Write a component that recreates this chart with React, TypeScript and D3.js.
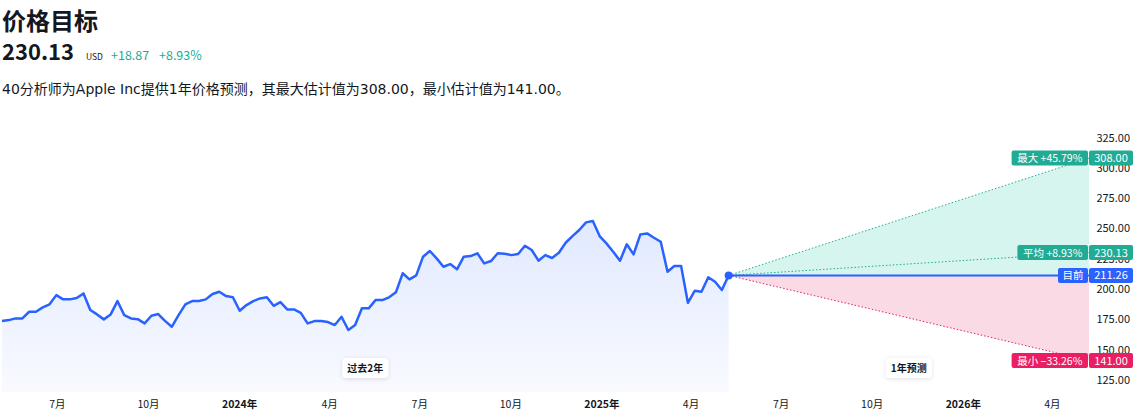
import React from "react";
import * as d3 from "d3";

// weekly closes, roughly May 2023 -> May 2025
const closes: number[] = [
  173.6, 174.4, 175.8, 175.8, 181.3, 181.3, 184.9, 187.4, 195.0, 191.5,
  191.5, 192.6, 196.4, 182.7, 179.1, 175.0, 179.1, 190.1, 178.5, 175.8,
  175.2, 171.7, 178.0, 179.4, 173.8, 168.9, 178.5, 187.4, 190.1, 190.1,
  191.5, 195.9, 197.8, 194.2, 193.2, 182.1, 186.8, 190.1,
  192.3, 193.2, 186.2, 189.3, 183.2, 183.2, 180.4, 171.7, 173.6, 173.6,
  172.8, 170.3, 177.1, 166.2, 170.3, 184.1, 184.1, 190.9, 190.9, 193.2,
  197.3, 213.0, 208.0, 211.3, 226.7, 231.4, 225.3, 218.4, 220.6, 216.3,
  226.7, 227.2, 229.5, 221.2, 223.1,
  229.5, 229.2, 228.0, 228.9, 235.7, 232.2, 223.4, 228.0, 225.6, 230.0,
  238.2, 243.7, 248.7, 255.0, 256.1, 243.7, 237.7, 230.8, 223.4, 236.9,
  228.6, 245.1, 245.9, 242.3, 239.0, 214.3, 219.0, 219.0, 188.7, 198.6,
  197.8, 209.7, 206.0, 199.2, 211.26,
];
const historyStart = new Date(2023, 4, 6);
const historyEnd = new Date(2025, 4, 9);
const forecastEnd = new Date(2026, 4, 8);

const currentPrice = 211.26;
const targetMax = 308.0;
const targetAvg = 230.13;
const targetMin = 141.0;
const maxPct = "+45.79%";
const avgPct = "+8.93%";
const minPct = "−33.26%";
const yTicks = [125, 150, 175, 200, 225, 250, 275, 300, 325];

const W = 1141;
const H = 418;
const FONT = '"Noto Sans CJK SC", "Noto Sans", sans-serif';
const BLUE = "#2962ff";
const GREEN = "#22ab94";
const PINK = "#e91e63";
const INK = "#131722";

const labelWidth = (s: string) => {
  let w = 0;
  for (const ch of s) w += /[\u4e00-\u9fff]/.test(ch) ? 10.5 : 5.8;
  return w + 9;
};

const App: React.FC = () => {
  const plotLeft = 2;
  const plotRight = 1089;
  const x = d3.scaleTime().domain([historyStart, forecastEnd]).range([plotLeft, plotRight]);
  const y = d3.scaleLinear().domain([125, 325]).range([380, 137.5]);
  const bottom = 392;

  const step = (historyEnd.getTime() - historyStart.getTime()) / (closes.length - 1);
  const series = closes.map((v, i) => ({ date: new Date(historyStart.getTime() + i * step), v }));

  const line = d3.line<{ date: Date; v: number }>().x((d) => x(d.date)).y((d) => y(d.v));
  const area = d3.area<{ date: Date; v: number }>().x((d) => x(d.date)).y0(bottom).y1((d) => y(d.v));

  const cx = x(historyEnd);
  const cy = y(currentPrice);

  const ticks = x.ticks(d3.timeMonth.every(3)!).filter((d) => x(d) > 20 && x(d) < plotRight - 10);
  const tickLabel = (d: Date) => (d.getMonth() === 0 ? `${d.getFullYear()}年` : `${d.getMonth() + 1}月`);

  const badges = [
    { label: `最大 ${maxPct}`, value: targetMax, color: GREEN },
    { label: `平均 ${avgPct}`, value: targetAvg, color: GREEN },
    { label: "目前", value: currentPrice, color: BLUE },
    { label: `最小 ${minPct}`, value: targetMin, color: PINK },
  ];

  const pills = [
    { text: "过去2年", cx: (x(historyStart) + cx) / 2 },
    { text: "1年预测", cx: (cx + plotRight) / 2 },
  ];

  return (
    <div style={{ position: "absolute", left: 0, top: 0 }}>
      <svg width={W} height={H} style={{ display: "block", fontFamily: FONT }}>
        <defs>
          <linearGradient id="histFill" x1="0" y1="0" x2="0" y2="1">
            <stop offset="0%" stopColor={BLUE} stopOpacity={0.14} />
            <stop offset="100%" stopColor={BLUE} stopOpacity={0.03} />
          </linearGradient>
          <filter id="pillShadow" x="-30%" y="-50%" width="160%" height="200%">
            <feDropShadow dx="0" dy="1" stdDeviation="2" floodColor="#000" floodOpacity="0.12" />
          </filter>
        </defs>

        {/* header */}
        <text x={2} y={30} fontSize={24} fontWeight={700} fill={INK}>价格目标</text>
        <text x={2} y={60} fontSize={22} fontWeight={700} fill={INK}>230.13</text>
        <text x={86} y={60} fontSize={8.5} fill={INK}>USD</text>
        <text x={111} y={60} fontSize={12.5} fill={GREEN}>+18.87</text>
        <text x={159} y={60} fontSize={12.5} fill={GREEN}>+8.93%</text>
        <text
          x={2}
          y={94}
          fontSize={14}
          fill={INK}
          style={{ fontFamily: '"DejaVu Sans", "Noto Sans CJK SC", sans-serif' }}
        >
          40分析师为Apple Inc提供1年价格预测，其最大估计值为308.00，最小估计值为141.00。
        </text>

        {/* history */}
        <path d={area(series) ?? ""} fill="url(#histFill)" />

        {/* forecast fans */}
        <polygon
          points={`${cx},${cy} ${plotRight},${y(targetMax)} ${plotRight},${cy}`}
          fill="#d6f5ee"
        />
        <polygon
          points={`${cx},${cy} ${plotRight},${cy} ${plotRight},${y(targetMin)}`}
          fill="#fadbe5"
        />
        {[
          { v: targetMax, c: GREEN },
          { v: targetAvg, c: GREEN },
          { v: targetMin, c: PINK },
        ].map((t, i) => (
          <line key={i} x1={cx} y1={cy} x2={plotRight} y2={y(t.v)} stroke={t.c} strokeWidth={1} strokeDasharray="1.5 2" />
        ))}
        <line x1={cx} y1={cy} x2={plotRight} y2={cy} stroke={BLUE} strokeWidth={2} />

        <path d={line(series) ?? ""} fill="none" stroke={BLUE} strokeWidth={2.5} strokeLinejoin="round" />
        <circle cx={cx} cy={cy} r={4} fill={BLUE} />

        {/* period pills */}
        {pills.map((p) => (
          <g key={p.text} transform={`translate(${p.cx},368)`}>
            <rect x={-23} y={-10} width={46} height={20} rx={4} fill="#fff" filter="url(#pillShadow)" />
            <text textAnchor="middle" y={3.5} fontSize={10} fontWeight={700} fill={INK}>{p.text}</text>
          </g>
        ))}

        {/* y axis */}
        {yTicks.map((t) => (
          <text key={t} x={1130} y={y(t) + 4} textAnchor="end" fontSize={11} fill={INK}>
            {t.toFixed(2)}
          </text>
        ))}

        {/* x axis */}
        {ticks.map((d) => (
          <text
            key={d.getTime()}
            x={x(d)}
            y={408}
            textAnchor="middle"
            fontSize={10.5}
            fontWeight={d.getMonth() === 0 ? 700 : 400}
            fill={INK}
          >
            {tickLabel(d)}
          </text>
        ))}

        {/* target badges */}
        {badges.map((b) => {
          const by = y(b.value);
          const lw = labelWidth(b.label);
          return (
            <g key={b.label}>
              <rect x={plotRight - lw - 1} y={by - 7.5} width={lw} height={15} rx={2} fill={b.color} />
              <text x={plotRight - 1 - lw / 2} y={by + 4} textAnchor="middle" fontSize={10.5} fill="#fff">
                {b.label}
              </text>
              <rect x={plotRight} y={by - 7.5} width={44} height={15} rx={2} fill={b.color} />
              <text x={plotRight + 22} y={by + 4} textAnchor="middle" fontSize={11} fill="#fff">
                {b.value.toFixed(2)}
              </text>
            </g>
          );
        })}
      </svg>
    </div>
  );
};

export default App;
